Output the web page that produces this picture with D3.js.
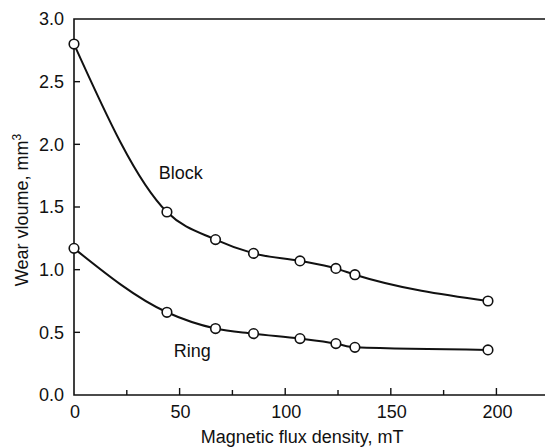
<!DOCTYPE html>
<html>
<head>
<meta charset="utf-8">
<script src="https://cdn.jsdelivr.net/npm/d3@7"></script>
<style>
  html, body { margin: 0; padding: 0; background: #fff; }
  svg text { font-family: 'Liberation Sans', Arial, sans-serif; fill: #111; }
</style>
</head>
<body>
<div id="graphic"></div>
<script>
// Data
var fluxDensity = [0, 44, 67, 85, 107, 124, 133, 196];
var blockWear = [2.80, 1.46, 1.24, 1.13, 1.07, 1.01, 0.96, 0.75];
var ringWear = [1.17, 0.66, 0.53, 0.49, 0.45, 0.41, 0.38, 0.36];
var xTicks = [0, 50, 100, 150, 200];
var xMinorTicks = [25, 75, 125, 175];
var yTicks = [0.0, 0.5, 1.0, 1.5, 2.0, 2.5, 3.0];

var WIDTH = 545;
var HEIGHT = 447;

/*
 * Render the graphic.
 */
var renderGraphic = function (config) {
  var margins = { top: 19, right: 0, bottom: 52, left: 74 };

  var chartWidth = config.width - margins.left - margins.right;
  var chartHeight = config.height - margins.top - margins.bottom;

  var containerElement = d3.select(config.container);
  containerElement.html('');

  var svg = containerElement.append('svg')
    .attr('width', config.width)
    .attr('height', config.height);

  var chartElement = svg.append('g')
    .attr('transform', 'translate(' + margins.left + ',' + margins.top + ')');

  var xScale = d3.scaleLinear()
    .domain([0, 223])
    .range([0, chartWidth]);

  var yScale = d3.scaleLinear()
    .domain([0, 3])
    .range([chartHeight, 0]);

  // frame: left, bottom, top (right side is cut off in the original)
  chartElement.append('path')
    .attr('d', 'M' + chartWidth + ',' + yScale(3) + 'H0V' + chartHeight + 'H' + chartWidth)
    .attr('fill', 'none')
    .attr('stroke', '#111')
    .attr('stroke-width', 1.6);

  // y ticks (inward)
  chartElement.selectAll('.y-tick')
    .data(yTicks.slice(1, -1))
    .enter().append('line')
    .attr('x1', 0)
    .attr('x2', 6)
    .attr('y1', function (d) { return yScale(d); })
    .attr('y2', function (d) { return yScale(d); })
    .attr('stroke', '#111')
    .attr('stroke-width', 1.4);

  chartElement.selectAll('.y-label')
    .data(yTicks)
    .enter().append('text')
    .attr('x', -10)
    .attr('y', function (d) { return yScale(d); })
    .attr('dy', '0.36em')
    .attr('text-anchor', 'end')
    .style('font-size', '18px')
    .text(function (d) { return d.toFixed(1); });

  // x ticks (inward)
  chartElement.selectAll('.x-tick')
    .data(xTicks.slice(1))
    .enter().append('line')
    .attr('x1', function (d) { return xScale(d); })
    .attr('x2', function (d) { return xScale(d); })
    .attr('y1', chartHeight)
    .attr('y2', chartHeight - 7)
    .attr('stroke', '#111')
    .attr('stroke-width', 1.4);

  chartElement.selectAll('.x-minor')
    .data(xMinorTicks)
    .enter().append('line')
    .attr('x1', function (d) { return xScale(d); })
    .attr('x2', function (d) { return xScale(d); })
    .attr('y1', chartHeight)
    .attr('y2', chartHeight - 5)
    .attr('stroke', '#111')
    .attr('stroke-width', 1.4);

  chartElement.selectAll('.x-label')
    .data(xTicks)
    .enter().append('text')
    .attr('x', function (d) { return xScale(d) + 1; })
    .attr('y', chartHeight + 23)
    .attr('text-anchor', 'middle')
    .style('font-size', '18px')
    .text(function (d) { return d; });

  // axis titles
  chartElement.append('text')
    .attr('x', xScale(108))
    .attr('y', chartHeight + 48)
    .attr('text-anchor', 'middle')
    .style('font-size', '18px')
    .text('Magnetic flux density, mT');

  var yTitle = svg.append('text')
    .attr('transform', 'translate(28,210) rotate(-90)')
    .attr('text-anchor', 'middle')
    .style('font-size', '18px');
  yTitle.append('tspan').text('Wear vloume, mm');
  yTitle.append('tspan')
    .attr('dy', -7)
    .style('font-size', '12px')
    .text('3');

  // curves
  var line = d3.line()
    .x(function (d) { return xScale(d[0]); })
    .y(function (d) { return yScale(d[1]); })
    .curve(d3.curveMonotoneX);

  var series = [
    { name: 'Block', values: blockWear },
    { name: 'Ring', values: ringWear }
  ];

  series.forEach(function (s) {
    var pts = fluxDensity.map(function (x, i) { return [x, s.values[i]]; });

    chartElement.append('path')
      .attr('d', line(pts))
      .attr('fill', 'none')
      .attr('stroke', '#111')
      .attr('stroke-width', 2);

    chartElement.selectAll('.pt-' + s.name)
      .data(pts)
      .enter().append('circle')
      .attr('cx', function (d) { return xScale(d[0]); })
      .attr('cy', function (d) { return yScale(d[1]); })
      .attr('r', 4.8)
      .attr('fill', '#fff')
      .attr('stroke', '#111')
      .attr('stroke-width', 1.6);
  });

  // series labels
  chartElement.append('text')
    .attr('x', xScale(50.5))
    .attr('y', yScale(1.72))
    .attr('text-anchor', 'middle')
    .style('font-size', '18px')
    .text('Block');

  chartElement.append('text')
    .attr('x', xScale(56))
    .attr('y', yScale(0.305))
    .attr('text-anchor', 'middle')
    .style('font-size', '18px')
    .text('Ring');
};

window.onload = function () {
  renderGraphic({
    container: '#graphic',
    width: WIDTH,
    height: HEIGHT
  });
};
</script>
</body>
</html>
